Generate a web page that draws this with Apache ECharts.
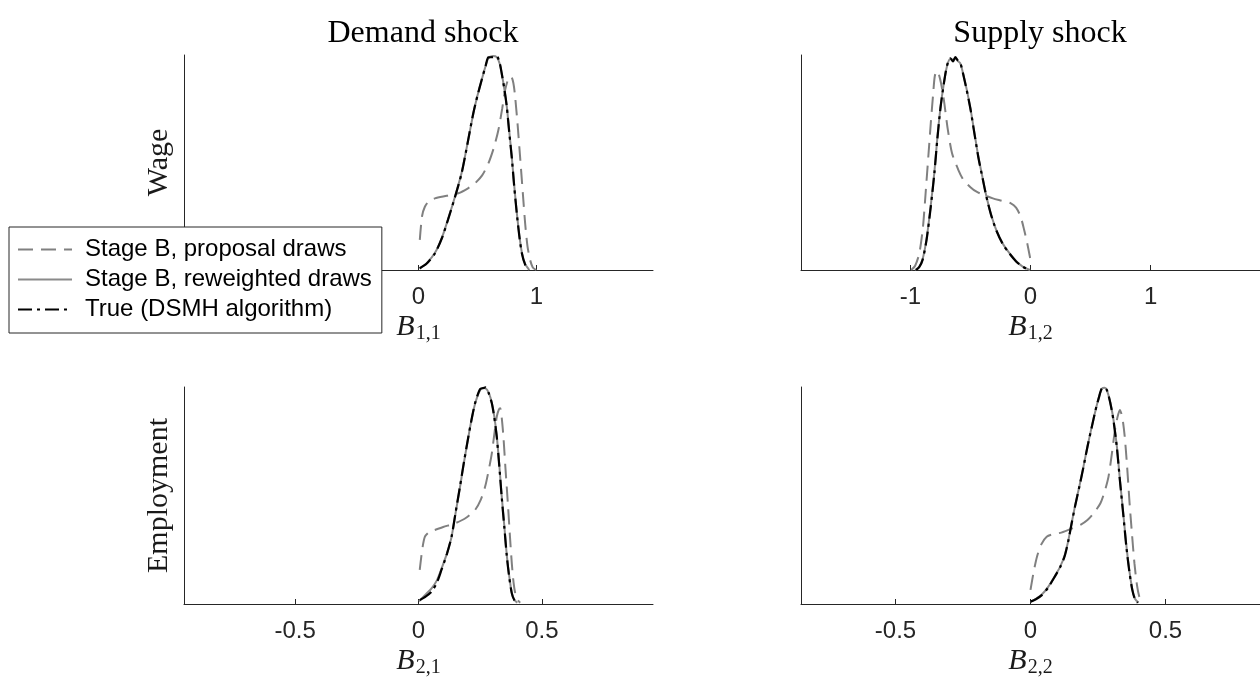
<!DOCTYPE html>
<html>
<head>
<meta charset="utf-8">
<script src="https://cdn.jsdelivr.net/npm/echarts@6/dist/echarts.min.js"></script>
<style>
  html, body { margin: 0; padding: 0; background: #fff; }
  #chart { width: 1260px; height: 682px; }
</style>
</head>
<body>
<div id="chart"></div>
<script>
// Marginal densities of the impact matrix B (peak-normalised), [value, density] pairs.
const seriesNames = ['Stage B, proposal draws', 'Stage B, reweighted draws', 'True (DSMH algorithm)'];
const shockNames = ['Demand shock', 'Supply shock'];
const variableNames = ['Wage', 'Employment'];

// B(1,1): wage, demand shock
const b11Proposal = [[0.011,0.14],[0.03,0.25],[0.054,0.294],[0.09,0.322],[0.139,0.333],[0.24,0.345],[0.338,0.357],[0.42,0.38],[0.479,0.403],[0.54,0.44],[0.593,0.496],[0.64,0.57],[0.678,0.651],[0.71,0.75],[0.735,0.837],[0.76,0.885],[0.786,0.9],[0.805,0.87],[0.82,0.806],[0.842,0.67],[0.862,0.527],[0.885,0.36],[0.905,0.217],[0.925,0.11],[0.947,0.047],[0.97,0.012],[1.0,0]];
const b11Reweighted = [[0.01,0.006],[0.07,0.032],[0.14,0.08],[0.2,0.152],[0.25,0.235],[0.31,0.342],[0.366,0.452],[0.42,0.6],[0.465,0.727],[0.5,0.81],[0.536,0.884],[0.57,0.95],[0.593,0.985],[0.63,0.995],[0.664,0.99],[0.69,0.958],[0.706,0.915],[0.729,0.84],[0.749,0.762],[0.77,0.645],[0.791,0.53],[0.812,0.395],[0.834,0.268],[0.855,0.165],[0.877,0.082],[0.905,0.028],[0.94,0]];
const b11True = [[0.01,0.008],[0.07,0.03],[0.14,0.078],[0.2,0.15],[0.25,0.233],[0.31,0.34],[0.366,0.45],[0.42,0.6],[0.465,0.729],[0.5,0.81],[0.536,0.884],[0.57,0.95],[0.593,0.989],[0.63,0.99],[0.664,0.995],[0.69,0.96],[0.706,0.915],[0.729,0.84],[0.749,0.76],[0.77,0.64],[0.791,0.527],[0.812,0.39],[0.834,0.264],[0.855,0.16],[0.877,0.078],[0.905,0.025],[0.934,0]];

// B(1,2): wage, supply shock
const b12Proposal = [[-0.993,0],[-0.96,0.02],[-0.925,0.078],[-0.895,0.2],[-0.871,0.372],[-0.85,0.53],[-0.83,0.682],[-0.81,0.82],[-0.797,0.9],[-0.78,0.925],[-0.77,0.923],[-0.745,0.87],[-0.721,0.791],[-0.69,0.66],[-0.653,0.543],[-0.6,0.465],[-0.558,0.419],[-0.5,0.385],[-0.449,0.364],[-0.38,0.347],[-0.313,0.333],[-0.24,0.322],[-0.163,0.31],[-0.12,0.29],[-0.082,0.248],[-0.05,0.18],[-0.027,0.124],[0,0.047]];
const b12Reweighted = [[-0.96,0],[-0.925,0.016],[-0.898,0.05],[-0.865,0.145],[-0.83,0.3],[-0.8,0.455],[-0.776,0.61],[-0.75,0.752],[-0.721,0.868],[-0.695,0.948],[-0.667,0.982],[-0.645,0.978],[-0.626,0.985],[-0.605,0.972],[-0.585,0.962],[-0.56,0.912],[-0.531,0.84],[-0.5,0.752],[-0.476,0.67],[-0.435,0.53],[-0.4,0.432],[-0.367,0.343],[-0.33,0.262],[-0.286,0.188],[-0.23,0.122],[-0.177,0.08],[-0.12,0.042],[-0.068,0.017],[-0.003,0]];
const b12True = [[-0.953,0],[-0.925,0.015],[-0.898,0.047],[-0.865,0.14],[-0.83,0.294],[-0.8,0.45],[-0.776,0.605],[-0.75,0.75],[-0.721,0.868],[-0.695,0.95],[-0.667,0.985],[-0.645,0.97],[-0.626,0.99],[-0.605,0.975],[-0.585,0.965],[-0.56,0.91],[-0.531,0.837],[-0.5,0.75],[-0.476,0.667],[-0.435,0.527],[-0.4,0.43],[-0.367,0.341],[-0.33,0.26],[-0.286,0.186],[-0.23,0.12],[-0.177,0.078],[-0.12,0.04],[-0.068,0.016],[-0.008,0]];

// B(2,1): employment, demand shock
const b21Proposal = [[0.005,0.157],[0.015,0.25],[0.026,0.31],[0.045,0.333],[0.066,0.341],[0.1,0.355],[0.148,0.372],[0.19,0.395],[0.229,0.433],[0.252,0.48],[0.27,0.541],[0.285,0.62],[0.297,0.694],[0.308,0.79],[0.317,0.863],[0.325,0.895],[0.331,0.902],[0.337,0.86],[0.344,0.771],[0.352,0.63],[0.362,0.464],[0.37,0.32],[0.378,0.187],[0.385,0.1],[0.392,0.049],[0.402,0.018],[0.412,0.006]];
const b21Reweighted = [[0.002,0.012],[0.03,0.045],[0.053,0.072],[0.075,0.11],[0.093,0.162],[0.115,0.232],[0.134,0.31],[0.15,0.418],[0.168,0.538],[0.185,0.658],[0.202,0.77],[0.215,0.85],[0.229,0.922],[0.249,0.985],[0.262,0.995],[0.272,0.994],[0.285,0.972],[0.297,0.928],[0.307,0.865],[0.317,0.775],[0.327,0.645],[0.337,0.498],[0.348,0.355],[0.358,0.222],[0.368,0.125],[0.378,0.052],[0.388,0.02],[0.4,0.006]];
const b21True = [[0.005,0.018],[0.03,0.035],[0.053,0.057],[0.075,0.1],[0.093,0.157],[0.115,0.23],[0.134,0.31],[0.15,0.42],[0.168,0.541],[0.185,0.66],[0.202,0.771],[0.215,0.85],[0.229,0.925],[0.249,0.99],[0.262,0.995],[0.272,0.998],[0.285,0.97],[0.297,0.925],[0.307,0.86],[0.317,0.771],[0.327,0.64],[0.337,0.494],[0.348,0.35],[0.358,0.218],[0.368,0.12],[0.378,0.049],[0.388,0.018],[0.398,0.006]];

// B(2,2): employment, supply shock
const b22Proposal = [[0,0.065],[0.012,0.15],[0.024,0.218],[0.04,0.275],[0.06,0.31],[0.085,0.322],[0.114,0.329],[0.156,0.349],[0.185,0.365],[0.211,0.387],[0.235,0.42],[0.259,0.464],[0.275,0.52],[0.289,0.587],[0.3,0.68],[0.313,0.802],[0.322,0.86],[0.331,0.894],[0.34,0.86],[0.349,0.771],[0.358,0.63],[0.367,0.464],[0.376,0.32],[0.385,0.187],[0.394,0.09],[0.403,0.034],[0.415,0.006]];
const b22Reweighted = [[0,0.01],[0.02,0.024],[0.042,0.044],[0.065,0.078],[0.09,0.128],[0.11,0.172],[0.126,0.222],[0.14,0.292],[0.15,0.358],[0.165,0.452],[0.181,0.543],[0.196,0.632],[0.211,0.726],[0.226,0.812],[0.241,0.893],[0.253,0.952],[0.265,0.993],[0.275,0.996],[0.283,0.984],[0.295,0.932],[0.307,0.852],[0.32,0.725],[0.331,0.575],[0.343,0.425],[0.355,0.27],[0.366,0.155],[0.377,0.068],[0.387,0.024],[0.4,0.006]];
const b22True = [[0,0.011],[0.02,0.022],[0.042,0.041],[0.065,0.075],[0.09,0.126],[0.11,0.17],[0.126,0.218],[0.14,0.29],[0.15,0.356],[0.165,0.45],[0.181,0.541],[0.196,0.63],[0.211,0.725],[0.226,0.81],[0.241,0.894],[0.253,0.95],[0.265,0.994],[0.275,0.995],[0.283,0.986],[0.295,0.93],[0.307,0.848],[0.32,0.72],[0.331,0.571],[0.343,0.42],[0.355,0.264],[0.366,0.15],[0.377,0.065],[0.387,0.022],[0.397,0.006]];

// Tick values and axis ranges per panel
const ticksTop = [-1, 0, 1];
const ticksBottom = [-0.5, 0, 0.5];
const rangeB11 = [-1.99, 1.99];
const rangeB12 = [-1.91, 1.91];
const rangeB21 = [-0.95, 0.95];
const rangeB22 = [-0.85, 0.85];

const panels = [
  { grid: { left: 184, top: 55, width: 469, height: 215 }, range: rangeB11, ticks: ticksTop, sub: '1,1', row: variableNames[0], data: [b11Proposal, b11Reweighted, b11True] },
  { grid: { left: 801, top: 55, width: 469, height: 215 }, range: rangeB12, ticks: ticksTop, sub: '1,2', row: '', data: [b12Proposal, b12Reweighted, b12True] },
  { grid: { left: 184, top: 387, width: 469, height: 217 }, range: rangeB21, ticks: ticksBottom, sub: '2,1', row: variableNames[1], data: [b21Proposal, b21Reweighted, b21True] },
  { grid: { left: 801, top: 387, width: 469, height: 217 }, range: rangeB22, ticks: ticksBottom, sub: '2,2', row: '', data: [b22Proposal, b22Reweighted, b22True] }
];

const axisColor = '#262626';
const sans = 'Liberation Sans, Arial, Helvetica, sans-serif';
const serif = 'Liberation Serif, Times New Roman, serif';

const lineStyles = [
  { color: '#808080', width: 2, type: [15, 8] },
  { color: '#8a8a8a', width: 2, type: 'solid' },
  { color: '#000000', width: 2.2, type: [14, 5, 3, 5] }
];

const grids = [], xAxes = [], yAxes = [], series = [];
panels.forEach((p, i) => {
  grids.push(Object.assign({ containLabel: false }, p.grid));
  xAxes.push({
    type: 'value', gridIndex: i, min: p.range[0], max: p.range[1],
    name: '{b|B}{s|' + p.sub + '}', nameLocation: 'middle', nameGap: 40,
    nameTextStyle: {
      rich: {
        b: { fontFamily: serif, fontStyle: 'italic', fontSize: 30, color: '#1a1a1a' },
        s: { fontFamily: serif, fontSize: 20, color: '#1a1a1a', padding: [14, 0, 0, 1] }
      }
    },
    axisLine: { show: true, onZero: false, lineStyle: { color: axisColor, width: 1 } },
    axisTick: { show: true, inside: true, length: 5, customValues: p.ticks, lineStyle: { color: axisColor } },
    axisLabel: { show: true, customValues: p.ticks, fontFamily: sans, fontSize: 24, color: axisColor, margin: 15 },
    splitLine: { show: false }
  });
  yAxes.push({
    type: 'value', gridIndex: i, min: 0, max: 1,
    name: p.row, nameLocation: 'middle', nameGap: 10, nameRotate: 90,
    nameTextStyle: { fontFamily: serif, fontSize: 30, color: '#1a1a1a' },
    axisLine: { show: true, onZero: false, lineStyle: { color: axisColor, width: 1 } },
    axisTick: { show: false }, axisLabel: { show: false }, splitLine: { show: false }
  });
  p.data.forEach((d, k) => {
    series.push({
      type: 'line', name: seriesNames[k], xAxisIndex: i, yAxisIndex: i,
      data: d, smooth: 0.25, symbol: 'none', showSymbol: false,
      lineStyle: lineStyles[k], itemStyle: { color: lineStyles[k].color },
      z: 2 + k, silent: true
    });
  });
});

const chart = echarts.init(document.getElementById('chart'), null, { renderer: 'canvas' });
chart.setOption({
  animation: false,
  backgroundColor: '#ffffff',
  title: [
    { text: shockNames[0], left: 418, top: 13, textAlign: 'center', textStyle: { fontFamily: serif, fontSize: 32, fontWeight: 'normal', color: '#000' } },
    { text: shockNames[1], left: 1035, top: 13, textAlign: 'center', textStyle: { fontFamily: serif, fontSize: 32, fontWeight: 'normal', color: '#000' } }
  ],
  legend: {
    data: seriesNames, orient: 'vertical', left: 9, top: 227,
    itemWidth: 54, itemHeight: 14, itemGap: 1,
    padding: [8, 10, 9, 8],
    backgroundColor: '#ffffff', borderColor: axisColor, borderWidth: 1,
    itemStyle: { color: 'rgba(0,0,0,0)', borderColor: 'rgba(0,0,0,0)', borderWidth: 0 },
    textStyle: { fontFamily: sans, fontSize: 24, color: '#000', lineHeight: 29, padding: [0, 0, 0, 8] },
    selectedMode: false
  },
  grid: grids, xAxis: xAxes, yAxis: yAxes, series: series
});
</script>
</body>
</html>
